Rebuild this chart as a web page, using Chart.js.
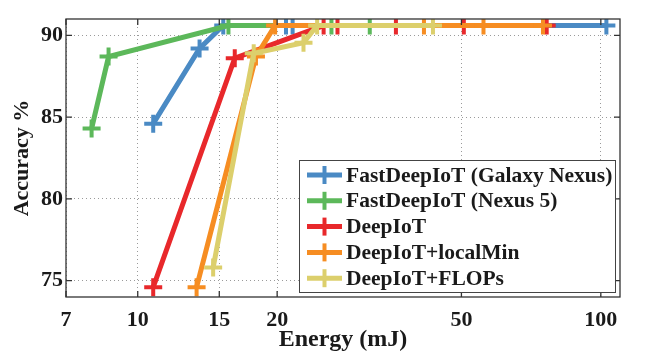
<!DOCTYPE html>
<html>
<head>
<meta charset="utf-8">
<script src="https://cdn.jsdelivr.net/npm/chart.js@4/dist/chart.umd.min.js"></script>
<style>
  html, body { margin: 0; padding: 0; background: #fff; }
  #wrap { width: 656px; height: 358px; }
</style>
</head>
<body>
<div id="wrap"><canvas id="acc"></canvas></div>
<script>
// energy (mJ) vs accuracy (%)
var labels = ["FastDeepIoT (Galaxy Nexus)", "FastDeepIoT (Nexus 5)", "DeepIoT", "DeepIoT+localMin", "DeepIoT+FLOPs"];
var colors = ["#4a8ac4", "#5cb85a", "#e8282b", "#f68d22", "#dccf6c"];

var galaxyEnergy = [10.8, 13.6, 15.3, 20.9, 21.6, 102.8];
var galaxyAcc    = [84.6, 89.2, 90.6, 90.6, 90.6, 90.6];
var nexusEnergy  = [7.95, 8.65, 15.7, 26.2, 31.7];
var nexusAcc     = [84.3, 88.7, 90.6, 90.6, 90.6];
var deepEnergy   = [10.8, 16.2, 25.2, 27.0, 36.1, 50.6, 76.4];
var deepAcc      = [74.6, 88.6, 90.6, 90.6, 90.6, 90.6, 90.6];
var localEnergy  = [13.4, 18.0, 19.8, 41.5, 55.8, 75.0];
var localAcc     = [74.6, 88.7, 90.6, 90.6, 90.6, 90.6];
var flopsEnergy  = [14.55, 17.8, 22.8, 24.4, 43.4];
var flopsAcc     = [75.8, 88.9, 89.55, 90.6, 90.6];

var xTicks = [7, 10, 15, 20, 50, 100];
var yTicks = [75, 80, 85, 90];

var serif = "'Liberation Serif', 'DejaVu Serif', serif";

function pts(xs, ys) {
  var out = [];
  for (var i = 0; i < xs.length; i++) out.push({x: xs[i], y: ys[i]});
  return out;
}

var series = [
  pts(galaxyEnergy, galaxyAcc),
  pts(nexusEnergy, nexusAcc),
  pts(deepEnergy, deepAcc),
  pts(localEnergy, localAcc),
  pts(flopsEnergy, flopsAcc)
];

var datasets = series.map(function(d, i) {
  return {
    label: labels[i],
    data: d,
    borderColor: colors[i],
    backgroundColor: colors[i],
    borderWidth: 5,
    pointStyle: 'cross',
    pointRadius: 9,
    pointBorderWidth: 4,
    pointHoverRadius: 9,
    fill: false,
    tension: 0,
    order: 5 - i
  };
});

// box around the axes, with inward ticks (matlab look)
var boxPlugin = {
  id: 'box',
  afterDraw: function(chart) {
    var c = chart.ctx, a = chart.chartArea;
    var xs = chart.scales.x, ys = chart.scales.y;
    c.save();
    c.strokeStyle = '#333';
    c.lineWidth = 1.3;
    c.strokeRect(a.left, a.top, a.right - a.left, a.bottom - a.top);
    c.beginPath();
    xTicks.forEach(function(t) {
      var px = xs.getPixelForValue(t);
      c.moveTo(px, a.bottom); c.lineTo(px, a.bottom - 6);
      c.moveTo(px, a.top); c.lineTo(px, a.top + 6);
    });
    yTicks.forEach(function(t) {
      var py = ys.getPixelForValue(t);
      c.moveTo(a.left, py); c.lineTo(a.left + 6, py);
      c.moveTo(a.right, py); c.lineTo(a.right - 6, py);
    });
    c.stroke();
    c.restore();
  }
};

// legend box in the lower right
var legendPlugin = {
  id: 'boxLegend',
  afterDraw: function(chart) {
    var c = chart.ctx;
    var left = 299, top = 160, w = 316, h = 132;
    c.save();
    c.fillStyle = '#fff';
    c.fillRect(left, top, w, h);
    c.strokeStyle = '#444';
    c.lineWidth = 1;
    c.strokeRect(left + 0.5, top + 0.5, w, h);
    c.font = 'bold 21.5px ' + serif;
    c.textBaseline = 'middle';
    chart.data.datasets.forEach(function(ds, i) {
      var y = top + 15 + i * 25.8;
      c.strokeStyle = ds.borderColor;
      c.lineWidth = 5;
      c.beginPath();
      c.moveTo(left + 8, y); c.lineTo(left + 43, y);
      c.stroke();
      c.lineWidth = 4;
      c.beginPath();
      c.moveTo(left + 25.5, y - 9); c.lineTo(left + 25.5, y + 9);
      c.stroke();
      c.fillStyle = '#1a1a1a';
      c.fillText(ds.label, left + 47, y + 1);
    });
    c.restore();
  }
};

new Chart(document.getElementById('acc'), {
  type: 'line',
  data: { datasets: datasets },
  options: {
    responsive: true,
    maintainAspectRatio: false,
    animation: false,
    layout: { padding: { top: 19, right: 36, left: 0, bottom: 0 } },
    plugins: {
      legend: { display: false },
      tooltip: { enabled: false }
    },
    scales: {
      x: {
        type: 'logarithmic',
        min: 7,
        max: 110,
        afterBuildTicks: function(s) { s.ticks = xTicks.map(function(v) { return {value: v}; }); },
        afterFit: function(s) { s.height = 61; },
        ticks: {
          color: '#1a1a1a',
          font: { family: serif, size: 22, weight: 'bold' },
          padding: 10,
          maxRotation: 0,
          autoSkip: false,
          callback: function(v) { return String(v); }
        },
        grid: { color: '#9a9a9a', drawTicks: false, lineWidth: 1 },
        border: { display: false, dash: [1, 3] },
        title: {
          display: true,
          text: 'Energy (mJ)',
          color: '#1a1a1a',
          font: { family: serif, size: 24, weight: 'bold' },
          padding: { top: 0, bottom: 4 }
        }
      },
      y: {
        min: 74,
        max: 91,
        afterBuildTicks: function(s) { s.ticks = yTicks.map(function(v) { return {value: v}; }); },
        afterFit: function(s) { s.width = 66; },
        ticks: {
          color: '#1a1a1a',
          font: { family: serif, size: 22, weight: 'bold' },
          padding: 3
        },
        grid: { color: '#9a9a9a', drawTicks: false, lineWidth: 1 },
        border: { display: false, dash: [1, 3] },
        title: {
          display: true,
          text: 'Accuracy %',
          color: '#1a1a1a',
          font: { family: serif, size: 22, weight: 'bold' },
          padding: { top: 9, bottom: 0 }
        }
      }
    }
  },
  plugins: [boxPlugin, legendPlugin]
});
</script>
</body>
</html>
